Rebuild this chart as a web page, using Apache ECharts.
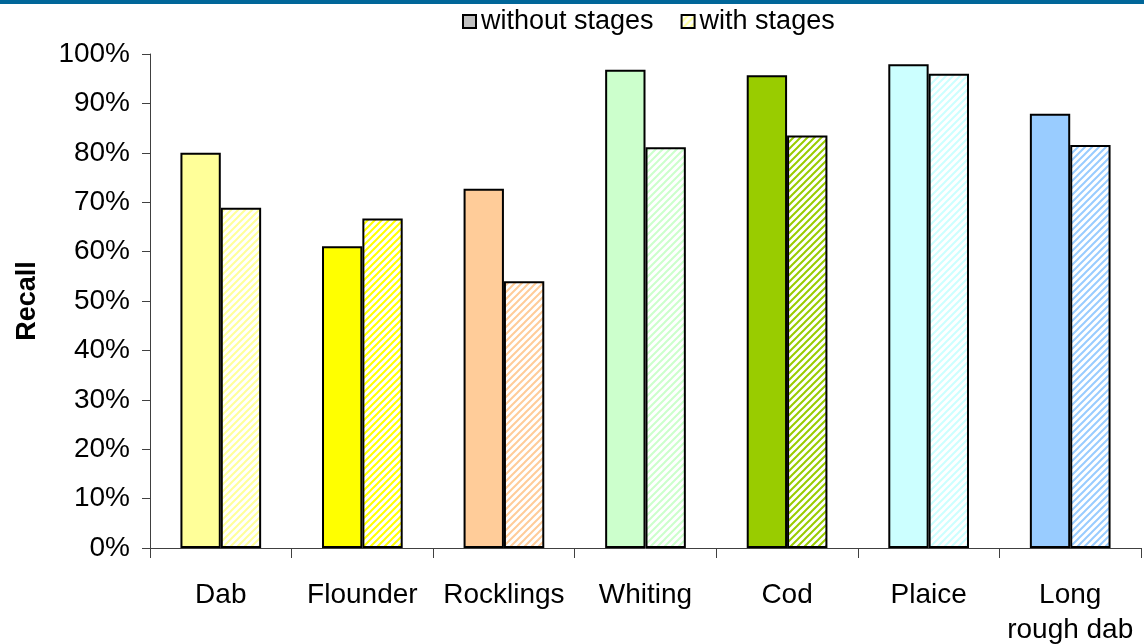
<!DOCTYPE html>
<html>
<head>
<meta charset="utf-8">
<script src="https://cdn.jsdelivr.net/npm/echarts@6/dist/echarts.min.js"></script>
<style>
  html, body { margin: 0; padding: 0; background: #fff; }
  #chart { width: 1144px; height: 644px; }
</style>
</head>
<body>
<div id="chart"></div>
<script>
// Fish species and per-species recall (%)
const categories = ['Dab', 'Flounder', 'Rocklings', 'Whiting', 'Cod', 'Plaice', 'Long\nrough dab'];
const withoutStages = [80.0, 61.1, 72.7, 96.8, 95.7, 97.9, 87.9];
const withStages = [68.9, 66.7, 54.0, 81.1, 83.5, 96.0, 81.6];
const speciesColors = ['#FFFF99', '#FFFF00', '#FFCC99', '#CCFFCC', '#99CC00', '#CCFFFF', '#99CCFF'];
const yTicks = [0, 10, 20, 30, 40, 50, 60, 70, 80, 90, 100];

// Diagonal stripe fill for the "with stages" bars
function stripes(color) {
  const s = 7;
  const c = document.createElement('canvas');
  c.width = s; c.height = s;
  const g = c.getContext('2d');
  g.fillStyle = '#ffffff';
  g.fillRect(0, 0, s, s);
  g.strokeStyle = color;
  g.lineWidth = 2;
  g.beginPath();
  g.moveTo(-1, s + 1); g.lineTo(s + 1, -1);
  g.moveTo(-1, 1); g.lineTo(1, -1);
  g.moveTo(s - 1, s + 1); g.lineTo(s + 1, s - 1);
  g.stroke();
  return { image: c, repeat: 'repeat' };
}

const FONT = 'Liberation Sans, Arial, sans-serif';
const chart = echarts.init(document.getElementById('chart'), null, { renderer: 'canvas' });

chart.setOption({
  animation: false,
  backgroundColor: '#ffffff',
  graphic: [{
    type: 'rect', left: 0, top: 0,
    shape: { width: 1144, height: 4 },
    style: { fill: '#006699' }, silent: true
  }],
  legend: {
    left: 457, top: 3,
    itemWidth: 13, itemHeight: 13, itemGap: 27,
    icon: 'rect',
    textStyle: { fontFamily: FONT, fontSize: 27, color: '#000' },
    data: ['without stages', 'with stages']
  },
  grid: { left: 150, right: 3, top: 54, bottom: 96, containLabel: false, outerBoundsMode: 'none' },
  xAxis: {
    type: 'category',
    data: categories,
    axisLine: { lineStyle: { color: '#404040', width: 1 } },
    axisTick: { show: true, length: 10, lineStyle: { color: '#404040' } },
    axisLabel: { fontFamily: FONT, fontSize: 28, color: '#000', margin: 30, lineHeight: 35, interval: 0 }
  },
  yAxis: {
    type: 'value',
    min: 0, max: 100, interval: 10,
    name: 'Recall',
    nameLocation: 'middle',
    nameGap: 109,
    nameRotate: 90,
    nameTextStyle: { fontFamily: FONT, fontSize: 27, fontWeight: 'bold', color: '#000' },
    axisLine: { show: true, lineStyle: { color: '#404040', width: 1 } },
    axisTick: { show: true, length: 8, inside: false, lineStyle: { color: '#404040' } },
    splitLine: { show: false },
    axisLabel: {
      fontFamily: FONT, fontSize: 28, color: '#000', margin: 20,
      formatter: v => (yTicks.includes(v) ? v + '%' : '')
    }
  },
  series: [
    {
      name: 'without stages',
      type: 'bar',
      barGap: '0%',
      barCategoryGap: '43%',
      itemStyle: { color: '#C0C0C0', borderColor: '#000', borderWidth: 2 },
      data: withoutStages.map((v, i) => ({ value: v, itemStyle: { color: speciesColors[i] } }))
    },
    {
      name: 'with stages',
      type: 'bar',
      barGap: '0%',
      barCategoryGap: '43%',
      itemStyle: { color: stripes('#FFFF99'), borderColor: '#000', borderWidth: 2 },
      data: withStages.map((v, i) => ({ value: v, itemStyle: { color: stripes(speciesColors[i]) } }))
    }
  ]
});
</script>
</body>
</html>
